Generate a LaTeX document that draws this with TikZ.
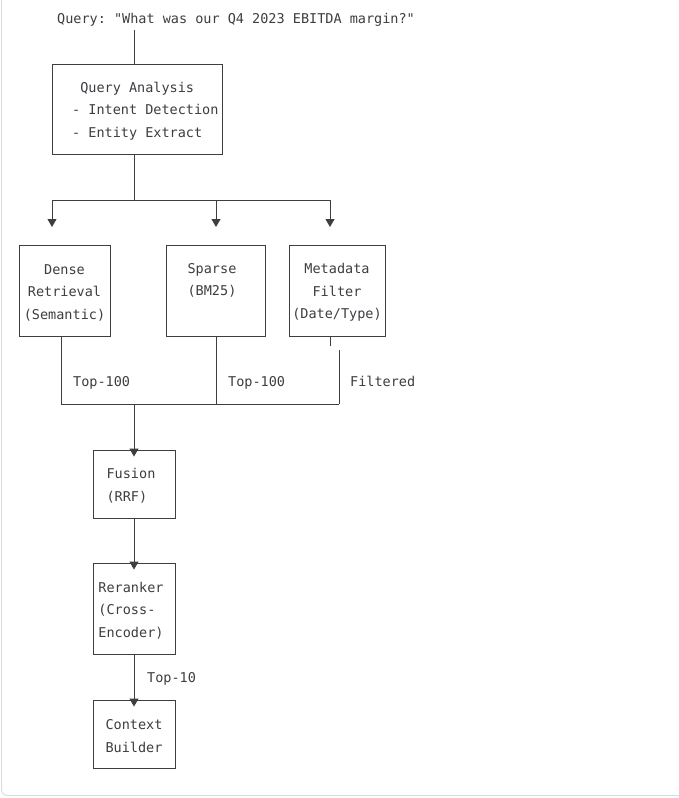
\documentclass[tikz,border=0pt]{standalone}
\usepackage{fontspec}
\setmonofont{DejaVu Sans Mono}
\usetikzlibrary{arrows.meta}
\definecolor{ink}{HTML}{3D3D42}
\definecolor{frame}{HTML}{DDDDDD}
\begin{document}
\begin{tikzpicture}[x=1pt,y=-1pt,
  every node/.style={font=\ttfamily\fontsize{13.5}{22.5}\selectfont, text=ink, inner sep=0pt},
  box/.style={draw=ink, line width=0.9pt},
  txt/.style={align=center},
  wire/.style={draw=ink, line width=0.9pt},
  arr/.style={wire, -{Triangle[width=9pt,length=8pt]}},
  lbl/.style={anchor=base west}]
\useasboundingbox (0,0) rectangle (679,798);
\draw[frame, line width=1pt, rounded corners=6pt] (1.5,-5) -- (1.5,795.5) -- (690,795.5);

% query
\node (query) at (236,20) {Query: "What was our Q4 2023 EBITDA margin?"};

% query analysis
\node[box, minimum width=170pt, minimum height=90pt] (qa) at (137,109) {};
\node[anchor=west, align=left] (qatext) at (72,111) {~Query Analysis\\- Intent Detection\\- Entity Extract};

% retrievers
\node[box, minimum width=91pt, minimum height=91pt] (dense) at (64.5,290.5) {};
\node[txt] (densetxt) at ([yshift=-2pt]dense.center) {Dense\\Retrieval\\(Semantic)};
\node[box, minimum width=99pt, minimum height=91pt] (sparse) at (215.5,290.5) {};
\node[txt, anchor=base] (sparsetxt) at (212,295.5) {Sparse\\(BM25)};
\node[box, minimum width=96pt, minimum height=91pt] (meta) at (337,290.5) {};
\node[txt] (metatxt) at ([yshift=-2pt]meta.center) {Metadata\\Filter\\(Date/Type)};

% pipeline
\node[box, minimum width=82pt, minimum height=68pt] (fusion) at (134,484) {};
\node[align=left] (fusiontxt) at ([xshift=-3pt,yshift=-2pt]fusion.center) {Fusion\\(RRF)};
\node[box, minimum width=82pt, minimum height=91pt] (rerank) at (134,608.5) {};
\node[align=left] (reranktxt) at ([xshift=-3pt,yshift=-2pt]rerank.center) {Reranker\\(Cross-\\Encoder)};
\node[box, minimum width=82pt, minimum height=68pt] (ctx) at (134,734) {};
\node[txt] (ctxtxt) at ([yshift=-2pt]ctx.center) {Context\\Builder};

% connectors top
\coordinate (qin) at (134,64);
\coordinate (qout) at (134,30);
\draw[wire] (qout) -- (qin);
\coordinate (bus) at (134,200);
\coordinate (t1) at (52,227);
\coordinate (t2) at (216,227);
\coordinate (t3) at (330,227);
\draw[wire] (qa.south -| bus) -- (bus);
\draw[arr] (bus) -| (t1);
\draw[arr] (bus) -| (t2);
\draw[arr] (bus) -| (t3);

% connectors bottom
\coordinate (j1) at (61,404);
\coordinate (j2) at (216,404);
\coordinate (j3) at (339,404);
\coordinate (jm) at (134,404);
\draw[wire] (dense.south -| j1) -- (j1) -- (j3);
\draw[wire] (sparse.south -| j2) -- (j2);
\coordinate (ms) at (330,346);
\coordinate (mj) at (339,350);
\draw[wire] (meta.south -| ms) -- (ms);
\draw[wire] (mj) -- (j3);
\node[lbl] (l1) at (73,386.5) {Top-100};
\node[lbl] (l2) at (228,386.5) {Top-100};
\node[lbl] (l3) at (350,386.5) {Filtered};

\draw[arr, shorten >=-7pt] (jm) -- (fusion.north);
\draw[arr, shorten >=-7pt] (fusion.south) -- (rerank.north);
\draw[arr, shorten >=-7pt] (rerank.south) -- (ctx.north);
\node[lbl] (l4) at (147,682.5) {Top-10};
\end{tikzpicture}
\end{document}
